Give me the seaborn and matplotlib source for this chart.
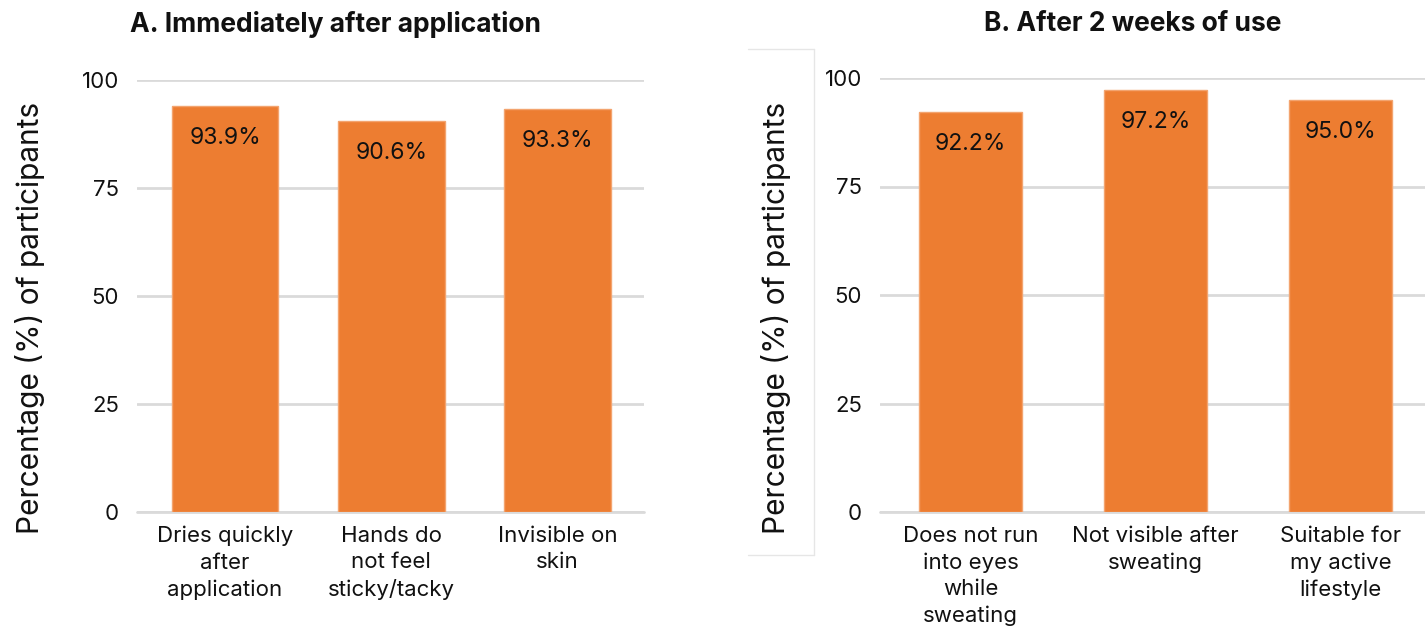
import matplotlib
matplotlib.use("Agg")
import matplotlib.pyplot as plt
from matplotlib.lines import Line2D
import seaborn as sns
import pandas as pd

# Survey results: share of participants agreeing with each statement
cats_a = ["Dries quickly\nafter\napplication", "Hands do\nnot feel\nsticky/tacky", "Invisible on\nskin"]
vals_a = [93.9, 90.6, 93.3]
cats_b = ["Does not run\ninto eyes\nwhile\nsweating", "Not visible after\nsweating", "Suitable for\nmy active\nlifestyle"]
vals_b = [92.2, 97.2, 95.0]
yticks = [0, 25, 50, 75, 100]

title_a = "A. Immediately after application"
title_b = "B. After 2 weeks of use"
ylabel = "Percentage (%) of participants"

BAR = "#ED7D31"
EDGE = "#F3A46F"
GRID = "#DADADA"
INK = "#111111"

sns.set_theme(style="white")
plt.rcParams["font.family"] = ["Inter", "DejaVu Sans"]

W, H = 1425, 632
fig = plt.figure(figsize=(W / 100, H / 100), dpi=100)


def px_axes(left, right, top, bottom):
    return fig.add_axes([left / W, 1 - bottom / H, (right - left) / W, (bottom - top) / H])


def panel(ax, cats, vals, width, xlim):
    df = pd.DataFrame({"cat": cats, "val": vals})
    sns.barplot(data=df, x="cat", y="val", color=BAR, saturation=1, width=width,
                edgecolor=EDGE, linewidth=1, ax=ax, zorder=3)
    ax.set_ylim(0, 100)
    ax.set_xlim(*xlim)
    ax.set_yticks(yticks)
    ax.set_yticklabels([str(t) for t in yticks])
    ax.yaxis.grid(True, color=GRID, linewidth=2, zorder=0)
    ax.set_axisbelow(True)
    for s in ax.spines.values():
        s.set_visible(False)
    ax.tick_params(axis="y", length=0, pad=13, labelsize=16, labelcolor=INK)
    ax.tick_params(axis="x", length=0, pad=10, labelsize=16, labelcolor=INK)
    for lab in ax.get_xticklabels():
        lab.set_linespacing(1.4)
    ax.set_xlabel("")
    ax.set_ylabel("")
    for patch, v in zip(ax.patches, vals):
        ax.annotate(f"{v:.1f}%", (patch.get_x() + patch.get_width() / 2, v),
                    xytext=(0, -23), textcoords="offset points",
                    ha="center", va="center", fontsize=16.5, color=INK, zorder=4)
    # baseline at zero
    ax.axhline(0, color=GRID, linewidth=2, zorder=2, clip_on=False)


ax_a = px_axes(137, 644, 80, 512)
panel(ax_a, cats_a, vals_a, 0.64, (-0.53, 2.52))

ax_b = px_axes(880, 1425, 78, 512)
panel(ax_b, cats_b, vals_b, 0.56, (-0.49, 2.456))

# Panel titles
fig.text(335 / W, 1 - 24 / H, title_a, ha="center", va="center", fontsize=19, fontweight="bold", color=INK)
fig.text(1133 / W, 1 - 24 / H, title_b, ha="center", va="center", fontsize=19, fontweight="bold", color=INK)

# Y-axis titles for both panels
fig.text(30 / W, 1 - 318 / H, ylabel, rotation=90, ha="center", va="center", fontsize=21.5, color=INK)
fig.text(776 / W, 1 - 318 / H, ylabel, rotation=90, ha="center", va="center", fontsize=21.5, color=INK)

# Faint frame behind panel B's label
frame = dict(color="#E6E6E6", linewidth=1, transform=fig.transFigure)
fig.add_artist(Line2D([748 / W, 814 / W], [1 - 49 / H, 1 - 49 / H], **frame))
fig.add_artist(Line2D([814 / W, 814 / W], [1 - 49 / H, 1 - 555 / H], **frame))
fig.add_artist(Line2D([748 / W, 814 / W], [1 - 555 / H, 1 - 555 / H], **frame))

fig.savefig("out.png", dpi=100, facecolor="white")
